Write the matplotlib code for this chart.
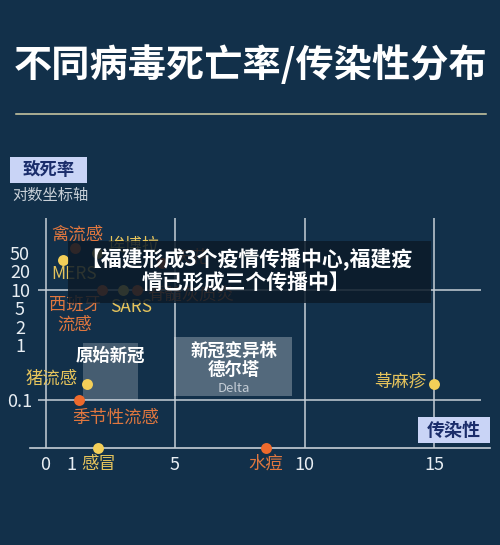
import numpy as np
import matplotlib
matplotlib.use('Agg')
import matplotlib.pyplot as plt
from matplotlib.patches import Rectangle
from matplotlib.ticker import NullLocator

plt.rcParams['font.family'] = ['Noto Sans CJK SC', 'DejaVu Sans']

# 数据
names = ['禽流感', 'MERS', '埃博拉', '天花', '西班牙\n流感', 'SARS', '脊髓灰质炎',
         '猪流感', '季节性流感', '荨麻疹', '水痘', '感冒']
r0 = [1.14, 0.69, 2.0, 4.5, 2.17, 3.0, 3.54, 1.59, 1.3, 15.0, 8.5, 2.04]
death = [60, 35, 50, 30, 10, 10, 10, 0.2, 0.1, 0.2, 0.01, 0.01]
group = ['o', 'y', 'y', 'o', 'o', 'y', 'o', 'y', 'o', 'y', 'o', 'y']

y_ticks = [50, 20, 10, 5, 2, 1, 0.1]
y_tick_labels = ['50', '20', '10', '5', '2', '1', '0.1']
x_ticks = [0, 1, 5, 10, 15]

# 标签偏移 (像素)
offsets = [(2, 13, 'center'), (11, -14, 'center'), (10, 7, 'left'), (12, 5, 'left'),
           (-27, -25, 'center'), (8, -17, 'center'), (10, -5, 'left'),
           (-9, 5, 'right'), (37, -18, 'center'), (-8, 2, 'right'),
           (0, -16, 'center'), (0, -16, 'center')]

BG = '#12304a'
LINE = '#c5ced6'
DOT = {'o': '#ef6a2c', 'y': '#f4cf58'}
TXT = {'o': '#e0773f', 'y': '#e6c45c'}

# 对数坐标轴 (不等距)
anchor_log = np.array([-6, -2, -1, 0, np.log10(2), np.log10(5), 1,
                       np.log10(20), np.log10(50), 2, np.log10(200), 6])
anchor_pos = np.array([-15, -4.6, -2, 1, 2, 3, 4, 5, 6, 7, 8, 20])


def fwd(v):
    v = np.clip(np.asarray(v, dtype=float), 1e-6, None)
    return np.interp(np.log10(v), anchor_log, anchor_pos)


def inv(p):
    return 10 ** np.interp(np.asarray(p, dtype=float), anchor_pos, anchor_log)


W, H = 500, 545


def fx(x):
    return x / W


def fy(y):
    return 1 - y / H


fig = plt.figure(figsize=(5, 5.45), dpi=100, facecolor=BG)

fig.text(fx(251), fy(65), '不同病毒死亡率/传染性分布', color='white',
         fontsize=27.5, fontweight='bold', ha='center', va='center')
fig.add_artist(plt.Line2D([fx(16), fx(486)], [fy(114), fy(114)],
                          color='#d2cfa6', lw=1.1, transform=fig.transFigure))

# 致死率 标签
fig.add_artist(Rectangle((fx(10), fy(183)), fx(77), 26 / H, facecolor='#c9d4f6',
                         edgecolor='none', transform=fig.transFigure))
fig.text(fx(48.5), fy(170), '致死率', color='#1b2d6b', fontsize=12.5,
         fontweight='bold', ha='center', va='center')
fig.text(fx(12), fy(195), '对数坐标轴', color='#c8d0d8', fontsize=11,
         ha='left', va='center')

ax = fig.add_axes([fx(30), fy(448), 460 / W, 230 / H])
ax.set_facecolor(BG)
ax.set_yscale('function', functions=(fwd, inv))
ax.set_xlim((30 - 45.5) / 25.9, (490 - 45.5) / 25.9)
ax.set_ylim(0.01, float(inv(7.9)))

for s in ['top', 'right', 'left']:
    ax.spines[s].set_visible(False)
ax.spines['bottom'].set_color(LINE)
ax.spines['bottom'].set_linewidth(1.2)

for xv in [0, 5, 10, 15]:
    ax.axvline(xv, color=LINE, lw=1.1, zorder=1)
for yv in [10, 0.1]:
    ax.hlines(yv, -0.29, 16.8, color=LINE, lw=1.1, zorder=1)

# 新冠方块
ax.add_patch(Rectangle((1.45, 0.102), 2.12, 1.08 - 0.102, facecolor='white',
                       alpha=0.22, edgecolor='none', zorder=2))
ax.add_patch(Rectangle((4.96, 0.118), 4.56, 1.35 - 0.118, facecolor='white',
                       alpha=0.28, edgecolor='none', zorder=2))
ax.text(2.49, 0.63, '原始新冠', color='white', fontsize=12.5, fontweight='bold',
        ha='center', va='center', zorder=4)
ax.text(7.28, 0.78, '新冠变异株', color='white', fontsize=12.5, fontweight='bold',
        ha='center', va='center', zorder=4)
ax.text(7.28, 0.35, '德尔塔', color='white', fontsize=12.5, fontweight='bold',
        ha='center', va='center', zorder=4)
ax.text(7.28, 0.165, 'Delta', color='#c3ccd5', fontsize=9.5,
        ha='center', va='center', zorder=4)

for i in range(len(names)):
    ax.scatter(r0[i], death[i], s=62, color=DOT[group[i]], zorder=5,
               clip_on=False, linewidths=0)
    dx, dy, ha = offsets[i]
    ax.annotate(names[i], (r0[i], death[i]), xytext=(dx, dy),
                textcoords='offset pixels', color=TXT[group[i]], fontsize=12.5,
                ha=ha, va='center', linespacing=1.15, zorder=5)

ax.set_xticks(x_ticks)
ax.set_xticklabels([str(v) for v in x_ticks])
ax.set_yticks(y_ticks)
ax.set_yticklabels(y_tick_labels)
ax.yaxis.set_minor_locator(NullLocator())
ax.xaxis.set_minor_locator(NullLocator())
ax.tick_params(axis='both', length=0, colors='#e8eef3', labelsize=13)
ax.tick_params(axis='x', pad=6)
ax.tick_params(axis='y', pad=7.2)
for lab in ax.get_yticklabels():
    lab.set_horizontalalignment('center')

# 传染性 标签
fig.add_artist(Rectangle((fx(418), fy(443)), fx(72), 26 / H, facecolor='#c9d4f6',
                         edgecolor='none', transform=fig.transFigure, zorder=6))
fig.text(fx(454), fy(430), '传染性', color='#1b2d6b', fontsize=13,
         fontweight='bold', ha='center', va='center', zorder=7)

# 横幅
fig.add_artist(Rectangle((fx(68), fy(303)), fx(363), 62 / H, facecolor='#0b1a28',
                         alpha=0.85, edgecolor='none', transform=fig.transFigure,
                         zorder=10))
fig.text(fx(246), fy(271), '【福建形成3个疫情传播中心,福建疫\n情已形成三个传播中】',
         color='white', fontsize=15, fontweight='bold', ha='center',
         va='center', linespacing=1.15, zorder=11)

fig.savefig('out.png', dpi=100, facecolor=BG)
